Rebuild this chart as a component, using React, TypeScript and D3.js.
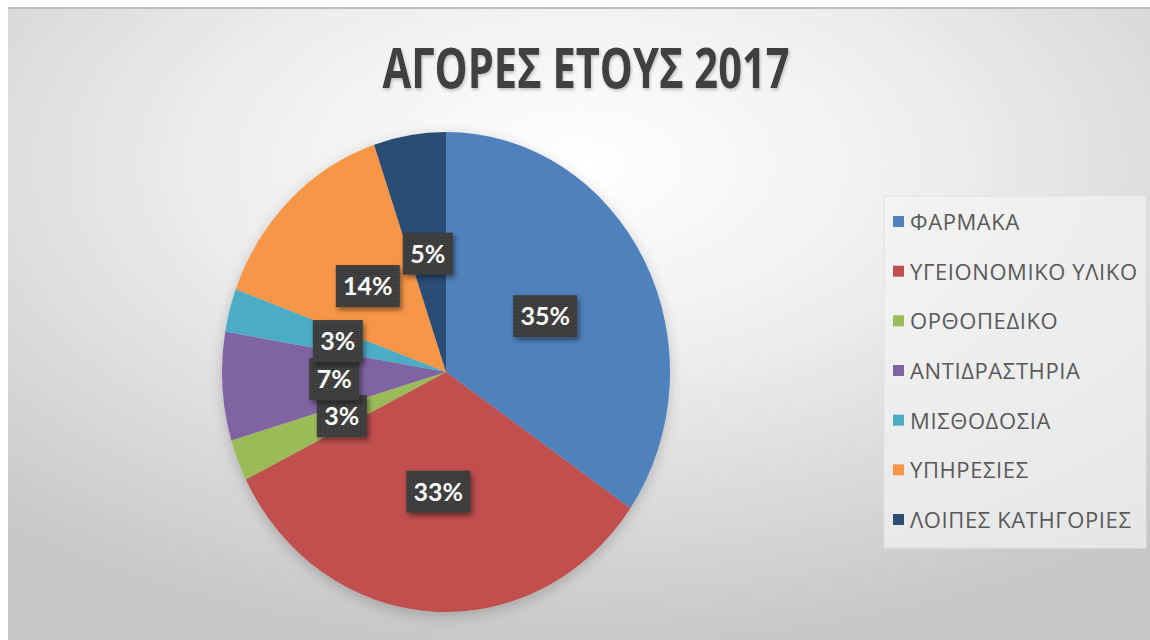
import React from "react";
import * as d3 from "d3";

const categories = [
  "ΦΑΡΜΑΚΑ",
  "ΥΓΕΙΟΝΟΜΙΚΟ ΥΛΙΚΟ",
  "ΟΡΘΟΠΕΔΙΚΟ",
  "ΑΝΤΙΔΡΑΣΤΗΡΙΑ",
  "ΜΙΣΘΟΔΟΣΙΑ",
  "ΥΠΗΡΕΣΙΕΣ",
  "ΛΟΙΠΕΣ ΚΑΤΗΓΟΡΙΕΣ",
];
const values = [34.6, 33.0, 2.8, 7.3, 2.9, 14.2, 5.2];
const colors = ["#4F81BD", "#C0504D", "#9BBB59", "#8064A2", "#4BACC6", "#F79646", "#2C4D75"];
const title = "ΑΓΟΡΕΣ ΕΤΟΥΣ 2017";

const W = 1150;
const H = 640;
const cx = 446;
const cy = 372;
const R = 240;
const sx = 224 / 240; // picture is slightly squeezed horizontally
const labelR = 120;

export default function App() {
  const total = d3.sum(values);
  const pie = d3.pie<number>().sort(null).value((d) => d)(values);
  const arc = d3.arc<d3.PieArcDatum<number>>().innerRadius(0).outerRadius(R);
  const labelArc = d3.arc<d3.PieArcDatum<number>>().innerRadius(labelR).outerRadius(labelR);

  const legendY = d3.scalePoint<number>().domain(d3.range(categories.length)).range([222, 520]);

  return (
    <svg
      width={W}
      height={H}
      style={{ position: "absolute", left: 0, top: 0, display: "block" }}
    >
      <defs>
        <radialGradient id="bg" cx="0.5" cy="0.25" r="0.78" gradientUnits="objectBoundingBox">
          <stop offset="0" stopColor="#ffffff" />
          <stop offset="0.4" stopColor="#eeeeee" />
          <stop offset="1" stopColor="#c6c6c6" />
        </radialGradient>
        <filter id="pieShadow" x="-20%" y="-20%" width="140%" height="140%">
          <feDropShadow dx="0" dy="4" stdDeviation="7" floodColor="#000" floodOpacity="0.2" />
        </filter>
        <filter id="boxShadow" x="-30%" y="-30%" width="160%" height="160%">
          <feDropShadow dx="2" dy="3" stdDeviation="2.5" floodColor="#000" floodOpacity="0.45" />
        </filter>
        <filter id="titleShadow" x="-10%" y="-30%" width="120%" height="160%">
          <feDropShadow dx="1" dy="2" stdDeviation="1.5" floodColor="#000" floodOpacity="0.22" />
        </filter>
        <pattern id="dots" width="4" height="4" patternUnits="userSpaceOnUse">
          <rect width="4" height="4" fill="#3b3b3b" />
          <rect x="1" y="1" width="1" height="1" fill="#5a5a5a" />
          <rect x="3" y="3" width="1" height="1" fill="#4c4c4c" />
        </pattern>
      </defs>

      <rect x={0} y={0} width={W} height={H} fill="#ffffff" />
      <rect x={8} y={7} width={W - 8} height={H - 7} fill="url(#bg)" />
      <line x1={8} x2={W} y1={8} y2={8} stroke="#bdbdbd" strokeWidth={2} />

      <text
        x={586}
        y={88}
        textAnchor="middle"
        fontFamily="'Open Sans', 'Noto Sans', sans-serif"
        fontWeight={700}
        fontSize={55}
        fill="#3f3f3f"
        textLength={407}
        lengthAdjust="spacingAndGlyphs"
        filter="url(#titleShadow)"
      >
        {title}
      </text>

      <g transform={`translate(${cx},${cy}) scale(${sx},1)`} filter="url(#pieShadow)">
        {pie.map((d, i) => (
          <path key={i} d={arc(d) || ""} fill={colors[i]} />
        ))}
      </g>
      <g transform={`translate(${cx},${cy})`}>
        {pie.map((d, i) => {
          const [lx, ly] = labelArc.centroid(d);
          const txt = `${Math.round((d.data / total) * 100)}%`;
          const w = txt.length === 3 ? 64 : 50;
          const h = 42;
          return (
            <g key={`l${i}`} transform={`translate(${lx * sx},${ly})`}>
              <rect
                x={-w / 2}
                y={-h / 2}
                width={w}
                height={h}
                fill="url(#dots)"
                filter="url(#boxShadow)"
              />
              <text
                textAnchor="middle"
                dy="0.36em"
                fontFamily="Lato, 'Open Sans', sans-serif"
                fontWeight={700}
                fontSize={25}
                fill="#ffffff"
              >
                {txt}
              </text>
            </g>
          );
        })}
      </g>

      <rect x={884} y={196} width={262} height={352} fill="#f4f4f4" fillOpacity={0.7} stroke="#e2e2e2" />
      {categories.map((c, i) => {
        const y = legendY(i) as number;
        return (
          <g key={`lg${i}`}>
            <rect x={893} y={y - 6} width={11} height={11} fill={colors[i]} />
            <text
              x={910}
              y={y}
              dy="0.36em"
              fontFamily="'Open Sans', 'Noto Sans', sans-serif"
              fontSize={22}
              letterSpacing={0.6}
              fill="#595959"
            >
              {c}
            </text>
          </g>
        );
      })}
    </svg>
  );
}
